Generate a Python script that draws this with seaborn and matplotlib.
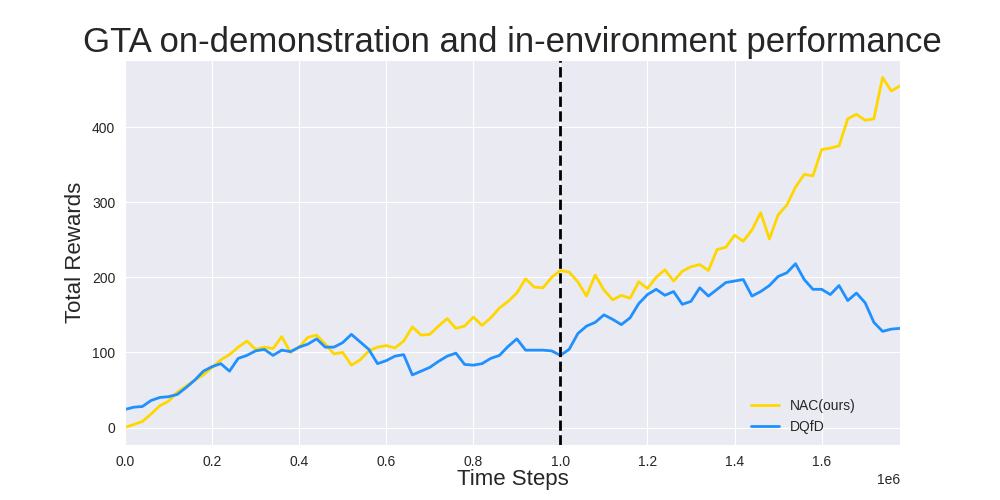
import numpy as np
import pandas as pd
import matplotlib
matplotlib.use('Agg')
import matplotlib.pyplot as plt
import seaborn as sns

# Valores (cada 0.02e6 pasos)
steps = np.arange(90) * 20000

nac_rewards = [0, 4, 8, 18, 29, 35, 47, 55, 63, 70,
               80, 90, 97, 107, 115, 104, 107, 105, 121, 100,
               107, 120, 123, 111, 98, 100, 83, 90, 102, 107,
               109, 106, 115, 134, 123, 124, 135, 145, 132, 135,
               147, 136, 146, 159, 168, 179, 198, 187, 186, 200,
               209, 207, 194, 175, 203, 183, 170, 176, 172, 194,
               185, 200, 210, 195, 208, 214, 217, 209, 237, 240,
               256, 248, 263, 286, 251, 283, 296, 320, 337, 335,
               370, 372, 375, 411, 417, 409, 411, 466, 448, 455]

dqfd_rewards = [24, 27, 28, 36, 40, 41, 44, 53, 63, 75,
                81, 85, 75, 92, 96, 102, 104, 96, 103, 101,
                107, 111, 118, 107, 107, 113, 124, 114, 104, 85,
                89, 95, 97, 70, 75, 80, 88, 95, 99, 84,
                83, 85, 92, 96, 108, 118, 103, 103, 103, 102,
                96, 104, 125, 135, 140, 150, 144, 137, 146, 165,
                177, 184, 176, 181, 164, 168, 186, 175, 184, 193,
                195, 197, 175, 181, 189, 201, 206, 218, 197, 184,
                184, 177, 189, 169, 179, 166, 140, 128, 131, 132]

series_names = ['NAC(ours)', 'DQfD']
series_colors = ['#FFD700', '#1E90FF']

df = pd.concat([
    pd.DataFrame({'step': steps, 'reward': nac_rewards, 'method': series_names[0]}),
    pd.DataFrame({'step': steps, 'reward': dqfd_rewards, 'method': series_names[1]}),
], ignore_index=True)

sns.set_style('darkgrid')
plt.rcParams['font.family'] = ['Liberation Sans', 'DejaVu Sans']

fig, ax = plt.subplots(figsize=(10, 5), dpi=100)
sns.lineplot(data=df, x='step', y='reward', hue='method',
             palette=dict(zip(series_names, series_colors)), linewidth=2, ax=ax)

# linea que separa demostracion y entorno
ax.axvline(1e6, color='black', linestyle='--', linewidth=2)

ax.set_xlim(steps[0], steps[-1])
ax.set_title('GTA on-demonstration and in-environment performance', fontsize=25)
ax.set_xlabel('Time Steps', fontsize=16, labelpad=0)
ax.set_ylabel('Total Rewards', fontsize=16)
ax.tick_params(labelsize=10)
ax.xaxis.get_offset_text().set_fontsize(10)
ax.legend(loc='lower right', bbox_to_anchor=(0.95, 0.015), borderaxespad=0,
          frameon=False, fontsize=10)

fig.savefig('out.png')
